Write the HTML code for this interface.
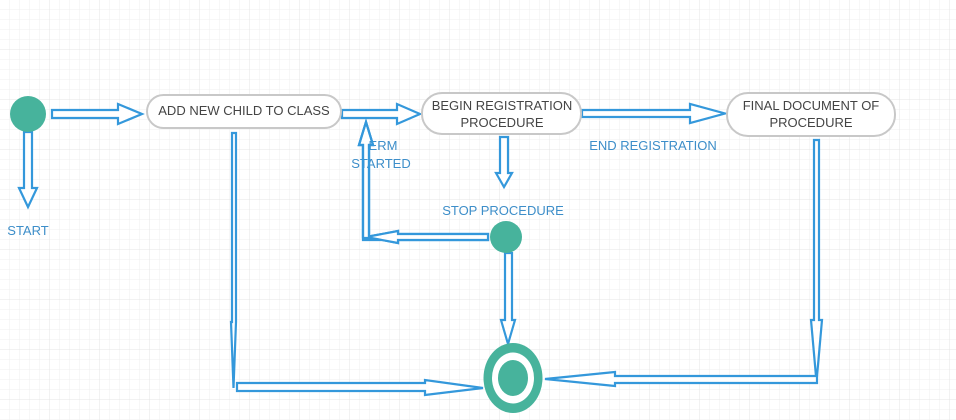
<!DOCTYPE html>
<html><head><style>
html,body{margin:0;padding:0;background:#fff;}
svg{display:block;font-family:"Liberation Sans",sans-serif;}
</style></head><body>
<svg width="956" height="420" viewBox="0 0 956 420" xmlns="http://www.w3.org/2000/svg">
<defs>
<pattern id="g" width="10" height="10" patternUnits="userSpaceOnUse"><path d="M10 0V10H0" fill="none" stroke="#efefef" stroke-width="1"/></pattern>
<pattern id="G" width="50" height="50" patternUnits="userSpaceOnUse"><rect width="50" height="50" fill="url(#g)"/><path d="M50 0V50H0" fill="none" stroke="#e4e4e4" stroke-width="1"/></pattern>
</defs>
<rect width="956" height="420" fill="url(#G)"/>
<g fill="#fff" stroke="#3498db" stroke-width="2.2" stroke-linejoin="miter">
<!-- start -> node1 -->
<path d="M52 110H118V104L142 114L118 124V118H52Z"/>
<!-- start down -->
<path d="M24 132V188H19L28 207L37 188H32V132Z"/>
<!-- node1 -> node2 -->
<path d="M342 110H397V104L420 114L397 124V118H342Z"/>
<!-- node2 -> node3 -->
<path d="M582 110H690V104L725 113.5L690 123V117H582Z"/>
<!-- node2 down -->
<path d="M500 137V173H496L504 187L512 173H508V137Z"/>
<!-- stop -> up -->
<path d="M488 234H398V231L366 237L398 243V240H369V145H373L366 122L359 145H363V240H488Z" fill="none"/>
<path d="M488 234H398V231L366 237L398 243V240H488Z"/>
<path d="M363 238V145H359L366 122L373 145H369V238Z"/>
<!-- node1 down to bottom -->
<path d="M232 133V322H231L233.5 388L236 322H236V133Z"/>
<path d="M237 383H425V380L483 388L425 395V391H237Z"/>
<!-- stop down -->
<path d="M505 253V320H501L508 344L515 320H512V253Z"/>
<!-- node3 down -->
<path d="M814 140V320H811L816.5 382L822 320H819V140Z"/>
<path d="M817 376H615V372L545 379L615 386V383H817Z"/>
</g>
<!-- circles -->
<circle cx="28" cy="114" r="18" fill="#47b39c"/>
<circle cx="506" cy="237" r="16" fill="#47b39c"/>
<ellipse cx="513" cy="378" rx="29.5" ry="35" fill="#47b39c"/>
<ellipse cx="513" cy="378" rx="21" ry="25.5" fill="#fff"/>
<ellipse cx="513" cy="378" rx="15" ry="18" fill="#47b39c"/>
<!-- nodes -->
<g fill="#fff" stroke="#c8c8c8" stroke-width="2">
<rect x="147" y="95" width="194" height="33" rx="16.5"/>
<rect x="422" y="93" width="159" height="41" rx="20"/>
<rect x="727" y="93" width="168" height="43" rx="21"/>
</g>
<g fill="#444" font-size="13" text-anchor="middle">
<text x="244" y="115">ADD NEW CHILD TO CLASS</text>
<text x="502" y="110">BEGIN REGISTRATION</text>
<text x="502" y="127">PROCEDURE</text>
<text x="811" y="110">FINAL DOCUMENT OF</text>
<text x="811" y="127">PROCEDURE</text>
</g>
<g fill="#3d8ec9" font-size="13" text-anchor="middle">
<text x="28" y="235">START</text>
<text x="653" y="150">END REGISTRATION</text>
<text x="503" y="215">STOP PROCEDURE</text>
<text x="383" y="150">ERM</text>
<text x="381" y="168">STARTED</text>
</g>
<!-- redraw up arrow over ERM text -->
<path d="M363 238V145H359L366 122L373 145H369V238" fill="none" stroke="#3498db" stroke-width="2.2"/>
</svg>
</body></html>
